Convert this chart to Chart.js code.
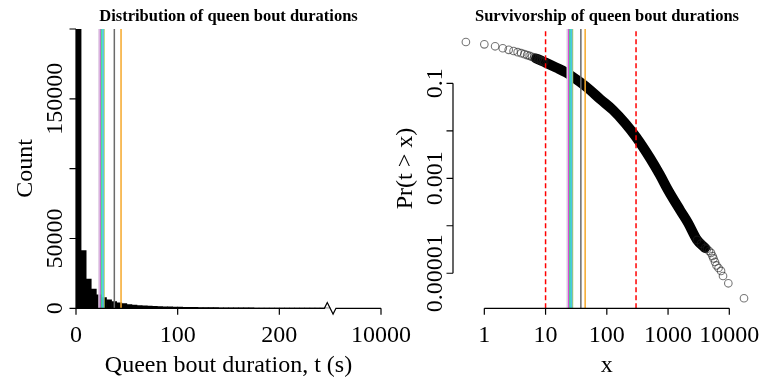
<!DOCTYPE html>
<html>
<head>
<meta charset="utf-8">
<script src="https://cdn.jsdelivr.net/npm/chart.js@4.4.1/dist/chart.umd.min.js"></script>
<style>
  html, body { margin: 0; padding: 0; background: #fff; }
  #wrap { position: relative; width: 763px; height: 378px; }
  #wrap canvas { position: absolute; left: 0; top: 0; }
</style>
</head>
<body>
<div id="wrap">
  <canvas id="hist" width="763" height="378"></canvas>
  <canvas id="surv" width="763" height="378"></canvas>
</div>
<script>
// ---- Histogram: queen bout durations in 5 s bins (0-250 s) ----
const binWidth = 5;
const binCounts = [
  205000, 41300, 20900, 13700, 9600, 7600, 6100, 4900, 4000, 3300,
  2750, 2350, 2000, 1750, 1550, 1380, 1240, 1110, 1000, 900,
  820, 740, 670, 610, 560, 510, 470, 430, 400, 370,
  340, 315, 295, 275, 255, 240, 225, 210, 198, 186,
  175, 165, 155, 147, 139, 131, 124, 118, 112, 106
];
// broken x axis: the last tick stands for 10000 s
const histTickValues = [0, 100, 200, 300];
const histTickLabels = ['0', '100', '200', '10000'];
const histBreakAt = 250;
const countTickValues = [0, 50000, 100000, 150000, 200000];
const countTickLabels = ['0', '50000', '', '150000', ''];

// ---- Reference bout durations (s), drawn as vertical lines ----
const markerValues = [22.6, 23.6, 24.6, 25.6, 26.6, 27.5, 37.7, 44.3];
const markerColors = ['#dcc8e2', '#d64fd6', '#3ddc84', '#3fd8d8', '#58b6ee', '#a8cf5c', '#6a6a6a', '#f5a82a'];

// ---- Fitting window (dashed) ----
const windowBounds = [10, 300];

// ---- Survivorship Pr(t > x) ----
// short bouts (0.5 s steps)
const survShortX = [0.5, 1, 1.5, 2, 2.5, 3, 3.5, 4, 4.5, 5, 5.5, 6, 6.5, 7, 7.5, 8, 8.5, 9, 9.5];
const survShortP = [0.740, 0.662, 0.601, 0.546, 0.507, 0.479, 0.452, 0.431, 0.410, 0.393,
                    0.376, 0.360, 0.346, 0.333, 0.320, 0.310, 0.299, 0.289, 0.281];
// dense central part of the curve
const survMidX = [7, 8.5, 10, 14.8, 21.6, 36.5, 53.2, 77.4, 126, 198, 300, 507, 739, 998, 1567, 2118, 2971, 4013];
const survMidP = [0.333, 0.299, 0.273, 0.215, 0.169, 0.106, 0.0722, 0.0467, 0.0274, 0.0146,
                  0.0074, 0.00267, 0.00117, 0.000567, 0.000215, 0.000115, 0.0000503, 0.0000341];
// longest bouts
const survTailX = [2971, 3450, 4013, 4325, 4667, 5026, 5318, 5521, 5845, 6183, 6668, 7325, 7893, 9638, 17378];
const survTailP = [0.0000503, 0.0000420, 0.0000341, 0.0000325, 0.0000295, 0.0000268, 0.0000231, 0.0000205,
                   0.0000173, 0.0000146, 0.0000129, 0.0000112, 0.00000877, 0.00000615, 0.00000298];

const survXTicks = [1, 10, 100, 1000, 10000];
const survXLabels = ['1', '10', '100', '1000', '10000'];
const survYTicks = [0.1, 0.01, 0.001, 0.0001, 0.00001];
const survYLabels = ['0.1', '', '0.001', '', '0.00001'];

const SERIF = '"Liberation Serif", "Times New Roman", Times, serif';

// Base-graphics style axes: line only between first and last tick, outward ticks
function baseAxes(cfg) {
  return {
    id: 'baseAxes',
    afterDraw(chart) {
      const { ctx, chartArea: a } = chart;
      const xs = chart.scales.x, ys = chart.scales.y;
      ctx.save();
      ctx.strokeStyle = '#000';
      ctx.fillStyle = '#000';
      ctx.lineWidth = 1.2;
      ctx.lineJoin = 'miter';

      const yb = a.bottom;
      const xp = cfg.xTicks.map(v => xs.getPixelForValue(v));
      ctx.beginPath();
      ctx.moveTo(xp[0], yb);
      if (cfg.xBreak !== undefined) {
        const b = xs.getPixelForValue(cfg.xBreak), w = 5.8;
        ctx.lineTo(b - w, yb);
        ctx.lineTo(b - w / 2, yb - w);
        ctx.lineTo(b + w / 2, yb + w);
        ctx.lineTo(b + w, yb);
      }
      ctx.lineTo(xp[xp.length - 1], yb);
      xp.forEach(p => { ctx.moveTo(p, yb); ctx.lineTo(p, yb + 6.5); });

      const xl = a.left;
      const yp = cfg.yTicks.map(v => ys.getPixelForValue(v));
      ctx.moveTo(xl, Math.min(...yp));
      ctx.lineTo(xl, Math.max(...yp));
      yp.forEach(p => { ctx.moveTo(xl, p); ctx.lineTo(xl - 6.5, p); });
      ctx.stroke();

      ctx.font = '24px ' + SERIF;
      ctx.textAlign = 'center';
      ctx.textBaseline = 'alphabetic';
      cfg.xLabels.forEach((t, i) => ctx.fillText(t, xp[i], cfg.xLabelY));
      cfg.yLabels.forEach((t, i) => {
        if (!t) return;
        ctx.save();
        ctx.translate(cfg.yLabelX, yp[i]);
        ctx.rotate(-Math.PI / 2);
        ctx.fillText(t, 0, 0);
        ctx.restore();
      });

      ctx.fillText(cfg.xTitle, cfg.xTitleX, cfg.xTitleY);
      ctx.save();
      ctx.translate(cfg.yTitleX, cfg.yTitleY);
      ctx.rotate(-Math.PI / 2);
      ctx.fillText(cfg.yTitle, 0, 0);
      ctx.restore();

      ctx.font = 'bold 16.5px ' + SERIF;
      ctx.fillText(cfg.title, cfg.titleX, cfg.titleY);
      ctx.restore();
    }
  };
}

const commonOpts = {
  responsive: false,
  animation: false,
  devicePixelRatio: 1,
  events: [],
  plugins: { legend: { display: false }, tooltip: { enabled: false } }
};

function verticalLine(x, y0, y1, color, width, dash) {
  return {
    type: 'line',
    data: [{ x: x, y: y0 }, { x: x, y: y1 }],
    borderColor: color,
    borderWidth: width,
    borderDash: dash || [],
    pointRadius: 0,
    fill: false,
    order: 0
  };
}

// ---------- Left: histogram ----------
const histMax = countTickValues[countTickValues.length - 1];
const histDatasets = markerValues.map((v, i) => verticalLine(v, 0, histMax, markerColors[i], 1.5));
histDatasets.push({
  type: 'bar',
  data: binCounts.map((c, i) => ({ x: i * binWidth + binWidth / 2, y: c })),
  backgroundColor: '#000',
  borderWidth: 0,
  barPercentage: 1,
  categoryPercentage: 1,
  order: 5
});

new Chart(document.getElementById('hist'), {
  type: 'bar',
  data: { datasets: histDatasets },
  options: Object.assign({}, commonOpts, {
    layout: { padding: { left: 76, right: 763 - 381, top: 29, bottom: 378 - 308.3 } },
    scales: {
      x: { type: 'linear', display: false, offset: false, min: 0, max: 300, bounds: 'data', grid: { offset: false } },
      y: { type: 'linear', display: false, min: 0, max: histMax, bounds: 'data' }
    }
  }),
  plugins: [baseAxes({
    xTicks: histTickValues, xLabels: histTickLabels, xBreak: histBreakAt,
    yTicks: countTickValues, yLabels: countTickLabels,
    xLabelY: 341.5, yLabelX: 61.5,
    xTitle: 'Queen bout duration, t (s)', xTitleX: 228.5, xTitleY: 371.5,
    yTitle: 'Count', yTitleX: 31.5, yTitleY: 168.5,
    title: 'Distribution of queen bout durations', titleX: 228.5, titleY: 20.7
  })]
});

// ---------- Right: survivorship ----------
const survYMin = 1.83e-6, survYMax = 1.39;
const survDatasets = [];
markerValues.forEach((v, i) => survDatasets.push(verticalLine(v, survYMin, survYMax, markerColors[i], 1.5)));
windowBounds.forEach(v => survDatasets.push(verticalLine(v, survYMin, survYMax, '#ff0000', 1.5, [5, 3])));
const ring = {
  showLine: false,
  pointRadius: 3.8,
  pointBorderWidth: 1.1,
  pointBorderColor: 'rgba(30,30,30,0.6)',
  pointBackgroundColor: 'rgba(0,0,0,0)',
  order: 2
};
survDatasets.push(Object.assign({ type: 'line', data: survShortX.map((x, i) => ({ x: x, y: survShortP[i] })) }, ring));
survDatasets.push(Object.assign({ type: 'line', data: survTailX.map((x, i) => ({ x: x, y: survTailP[i] })) }, ring));
survDatasets.push({
  type: 'line',
  data: survMidX.map((x, i) => ({ x: x, y: survMidP[i] })),
  borderColor: '#000',
  borderWidth: 10,
  borderCapStyle: 'round',
  borderJoinStyle: 'round',
  cubicInterpolationMode: 'monotone',
  pointRadius: 0,
  fill: false,
  order: 3
});

new Chart(document.getElementById('surv'), {
  type: 'line',
  data: { datasets: survDatasets },
  options: Object.assign({}, commonOpts, {
    layout: { padding: { left: 453, right: 763 - 755, top: 29, bottom: 378 - 308.3 } },
    scales: {
      x: { type: 'logarithmic', display: false, min: 0.308, max: 26280, bounds: 'data' },
      y: { type: 'logarithmic', display: false, min: survYMin, max: survYMax, bounds: 'data' }
    }
  }),
  plugins: [baseAxes({
    xTicks: survXTicks, xLabels: survXLabels,
    yTicks: survYTicks, yLabels: survYLabels,
    xLabelY: 341.5, yLabelX: 441.5,
    xTitle: 'x', xTitleX: 606.7, xTitleY: 371.5,
    yTitle: 'Pr(t > x)', yTitleX: 412, yTitleY: 168.5,
    title: 'Survivorship of queen bout durations', titleX: 607, titleY: 20.7
  })]
});
</script>
</body>
</html>
